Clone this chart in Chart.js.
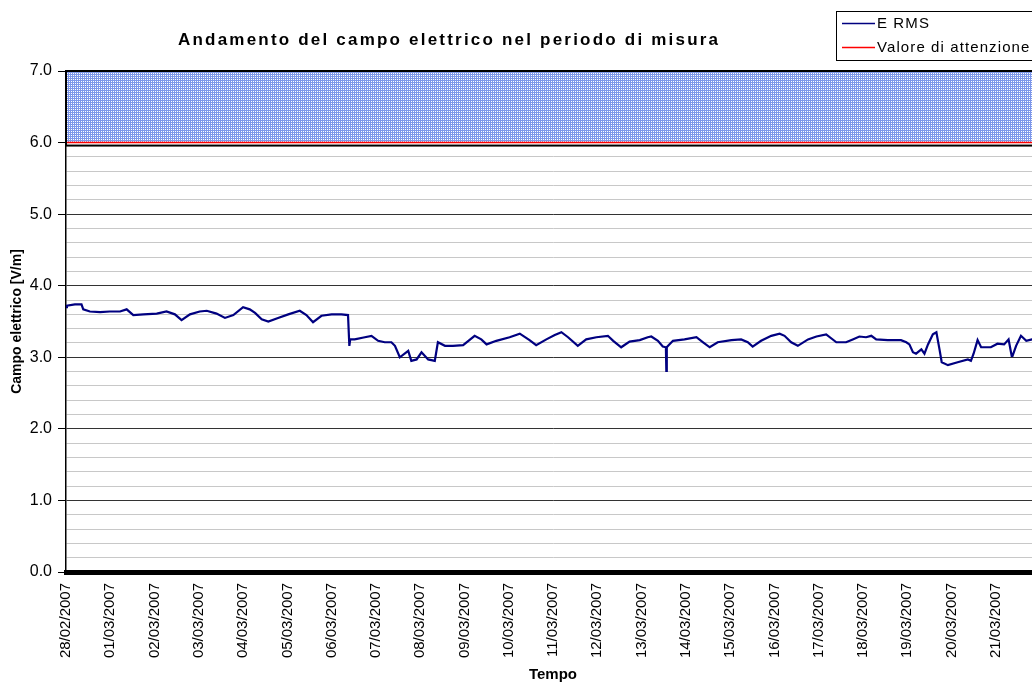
<!DOCTYPE html>
<html>
<head>
<meta charset="utf-8">
<script src="https://cdn.jsdelivr.net/npm/chart.js@4/dist/chart.umd.min.js"></script>
<style>
  html, body { margin: 0; padding: 0; background: #fff; }
  #wrap { width: 1032px; height: 684px; overflow: hidden; position: relative; }
  canvas { display: block; }
</style>
</head>
<body>
<div id="wrap"><canvas id="chart" width="1061" height="684"></canvas></div>
<script>
// giorni dal 28/02/2007 00:00
const dateLabels = ['28/02/2007', '01/03/2007', '02/03/2007', '03/03/2007', '04/03/2007', '05/03/2007',
  '06/03/2007', '07/03/2007', '08/03/2007', '09/03/2007', '10/03/2007', '11/03/2007', '12/03/2007',
  '13/03/2007', '14/03/2007', '15/03/2007', '16/03/2007', '17/03/2007', '18/03/2007', '19/03/2007',
  '20/03/2007', '21/03/2007'];

const days = [0.00, 0.02, 0.20, 0.35, 0.39, 0.54, 0.77, 0.99, 1.22, 1.37, 1.52, 1.75, 2.05, 2.27, 2.46,
  2.61, 2.80, 3.02, 3.18, 3.40, 3.59, 3.78, 4.00, 4.15, 4.27, 4.42, 4.57, 4.79, 5.02, 5.28, 5.43, 5.58,
  5.77, 6.00, 6.22, 6.37, 6.40, 6.42, 6.52, 6.75, 6.90, 7.05, 7.20, 7.35, 7.43, 7.54, 7.73, 7.80, 7.92,
  8.03, 8.18, 8.33, 8.40, 8.56, 8.74, 8.97, 9.23, 9.38, 9.50, 9.72, 10.02, 10.25, 10.47, 10.62, 10.85,
  11.04, 11.19, 11.34, 11.56, 11.75, 11.98, 12.24, 12.36, 12.54, 12.73, 12.96, 13.14, 13.22, 13.37,
  13.48, 13.55, 13.56, 13.57, 13.60, 13.71, 13.97, 14.24, 14.39, 14.54, 14.72, 15.03, 15.25, 15.40,
  15.51, 15.70, 15.93, 16.12, 16.23, 16.38, 16.53, 16.76, 16.95, 17.17, 17.40, 17.62, 17.77, 17.92,
  18.07, 18.19, 18.30, 18.56, 18.86, 18.98, 19.05, 19.13, 19.20, 19.32, 19.39, 19.47, 19.58, 19.66,
  19.73, 19.78, 19.92, 20.14, 20.37, 20.44, 20.50, 20.59, 20.67, 20.89, 21.04, 21.19, 21.29, 21.36,
  21.38, 21.46, 21.57, 21.69, 21.82, 22.00];

const eRms = [3.70, 3.72, 3.74, 3.74, 3.67, 3.64, 3.63, 3.64, 3.64, 3.67, 3.59, 3.60, 3.61, 3.64, 3.60,
  3.52, 3.60, 3.64, 3.65, 3.61, 3.55, 3.59, 3.70, 3.67, 3.62, 3.53, 3.50, 3.55, 3.60, 3.65, 3.59, 3.49,
  3.58, 3.60, 3.60, 3.59, 3.16, 3.25, 3.25, 3.28, 3.30, 3.23, 3.21, 3.21, 3.16, 3.00, 3.09, 2.95, 2.97,
  3.07, 2.97, 2.95, 3.21, 3.16, 3.16, 3.17, 3.30, 3.25, 3.18, 3.23, 3.28, 3.33, 3.24, 3.17, 3.25,
  3.31, 3.35, 3.28, 3.16, 3.25, 3.28, 3.30, 3.23, 3.14, 3.22, 3.24, 3.28, 3.29, 3.23,
  3.15, 3.14, 2.81, 3.14, 3.16, 3.23, 3.25, 3.28, 3.21, 3.14, 3.21, 3.24, 3.25, 3.21,
  3.15, 3.23, 3.30, 3.33, 3.30, 3.21, 3.16, 3.25, 3.29, 3.32, 3.21, 3.21, 3.25, 3.29,
  3.28, 3.30, 3.25, 3.24, 3.24, 3.21, 3.18, 3.07, 3.05, 3.11, 3.05, 3.18, 3.32, 3.35,
  3.11, 2.93, 2.89, 2.93, 2.97, 2.95, 3.05, 3.24, 3.14, 3.14, 3.19, 3.18, 3.25, 3.02,
  3.02, 3.16, 3.30, 3.23, 3.25, 3.26];

const limitValue = 6.0;   // valore di attenzione
const bandTop = 7.0;
const xMax = 22;

const FONT = "'Liberation Sans', Arial, sans-serif";

function bandPattern() {
  const c = document.createElement('canvas');
  c.width = 4; c.height = 4;
  const g = c.getContext('2d');
  g.fillStyle = '#7d97ea';
  g.fillRect(0, 0, 4, 4);
  g.fillStyle = '#ffffff';
  [[1, 1], [3, 1], [1, 3], [3, 3]].forEach(p => g.fillRect(p[0], p[1], 1, 1));
  return g.createPattern(c, 'repeat');
}

const isMajor = v => Math.abs(v - Math.round(v)) < 1e-6;

function spacedText(ctx, txt, x, y, spacing) {
  if ('letterSpacing' in ctx) {
    ctx.letterSpacing = spacing + 'px';
    ctx.fillText(txt, x, y);
    ctx.letterSpacing = '0px';
    return;
  }
  let cx = x;
  for (const ch of txt) {
    ctx.fillText(ch, cx, y);
    cx += ctx.measureText(ch).width + spacing;
  }
}

const decorations = {
  id: 'decorations',
  afterDatasetsDraw(chart) {
    const { ctx, scales: { x, y } } = chart;
    // riquadro della fascia 6-7
    ctx.save();
    ctx.strokeStyle = '#000';
    ctx.lineWidth = 2;
    const x0 = x.getPixelForValue(0), x1 = x.getPixelForValue(xMax);
    const yt = y.getPixelForValue(bandTop), yb = y.getPixelForValue(limitValue) + 3;
    ctx.strokeRect(x0, yt, x1 - x0, yb - yt);
    ctx.restore();
  },
  afterDraw(chart) {
    const { ctx } = chart;
    ctx.save();
    ctx.textBaseline = 'middle';
    ctx.textAlign = 'left';
    ctx.fillStyle = '#000';

    // titolo
    const title = 'Andamento del campo elettrico nel periodo di misura';
    ctx.font = `bold 17px ${FONT}`;
    const w = ctx.measureText(title).width;
    const sp = Math.max(0, (540 - w) / (title.length - 1));
    spacedText(ctx, title, 448 - (w + sp * (title.length - 1)) / 2, 40, sp);

    // legenda
    ctx.fillStyle = '#fff';
    ctx.fillRect(836.5, 11.5, 260, 49);
    ctx.strokeStyle = '#000';
    ctx.lineWidth = 1;
    ctx.strokeRect(836.5, 11.5, 260, 49);
    ctx.font = `15px ${FONT}`;
    const items = [['E RMS', '#000080', 23.5], ['Valore di attenzione', '#ff0000', 47.5]];
    items.forEach(([txt, col, yy]) => {
      ctx.strokeStyle = col;
      ctx.lineWidth = 1.5;
      ctx.beginPath();
      ctx.moveTo(842, yy);
      ctx.lineTo(875, yy);
      ctx.stroke();
      ctx.fillStyle = '#000';
      spacedText(ctx, txt, 877, yy, 1.1);
    });
    ctx.restore();
  }
};

new Chart(document.getElementById('chart'), {
  type: 'line',
  data: {
    datasets: [
      {
        label: 'E RMS',
        data: days.map((d, i) => ({ x: d, y: eRms[i] })),
        borderColor: '#000080',
        borderWidth: 2.2,
        pointRadius: 0,
        tension: 0,
        order: 0
      },
      {
        label: 'Valore di attenzione',
        data: [{ x: 0, y: limitValue }, { x: xMax, y: limitValue }],
        borderColor: '#ff0000',
        borderWidth: 1.5,
        pointRadius: 0,
        order: 1
      },
      {
        label: 'fascia',
        data: [{ x: 0, y: bandTop }, { x: xMax, y: bandTop }],
        borderColor: 'rgba(0,0,0,0)',
        borderWidth: 0,
        backgroundColor: bandPattern(),
        fill: { value: limitValue },
        pointRadius: 0,
        order: 2
      }
    ]
  },
  options: {
    responsive: false,
    animation: false,
    devicePixelRatio: 1,
    layout: { padding: { left: 0, top: 71, right: 4, bottom: 0 } },
    plugins: {
      legend: { display: false },
      tooltip: { enabled: false },
      title: { display: false }
    },
    scales: {
      x: {
        type: 'linear',
        min: 0,
        max: xMax,
        afterFit: s => { s.height = 112; },
        ticks: {
          stepSize: 1,
          autoSkip: false,
          maxRotation: 90,
          minRotation: 90,
          padding: 3,
          color: '#000',
          font: { family: FONT, size: 15 },
          callback: v => dateLabels[v] || ''
        },
        grid: { drawOnChartArea: false, drawTicks: true, tickLength: 8, tickColor: 'rgba(0,0,0,0)' },
        border: { color: '#000', width: 5 },
        title: {
          display: true,
          text: 'Tempo',
          color: '#000',
          font: { family: FONT, size: 15, weight: 'bold' },
          padding: { top: 0, bottom: 0 }
        }
      },
      y: {
        min: 0,
        max: 7,
        afterFit: s => { s.width = 66; },
        ticks: {
          stepSize: 0.2,
          autoSkip: false,
          padding: 6,
          color: '#000',
          font: { family: FONT, size: 16 },
          callback: v => isMajor(v) ? v.toFixed(1) : ''
        },
        grid: {
          color: c => isMajor(c.tick.value) ? '#333' : '#c8c8c8',
          tickColor: c => isMajor(c.tick.value) ? '#000' : 'rgba(0,0,0,0)',
          tickLength: 8,
          lineWidth: 1
        },
        border: { color: '#000', width: 1.5 },
        title: {
          display: true,
          text: 'Campo elettrico [V/m]',
          color: '#000',
          font: { family: FONT, size: 14, weight: 'bold' },
          padding: { top: 9, bottom: 0 }
        }
      }
    }
  },
  plugins: [decorations]
});
</script>
</body>
</html>
